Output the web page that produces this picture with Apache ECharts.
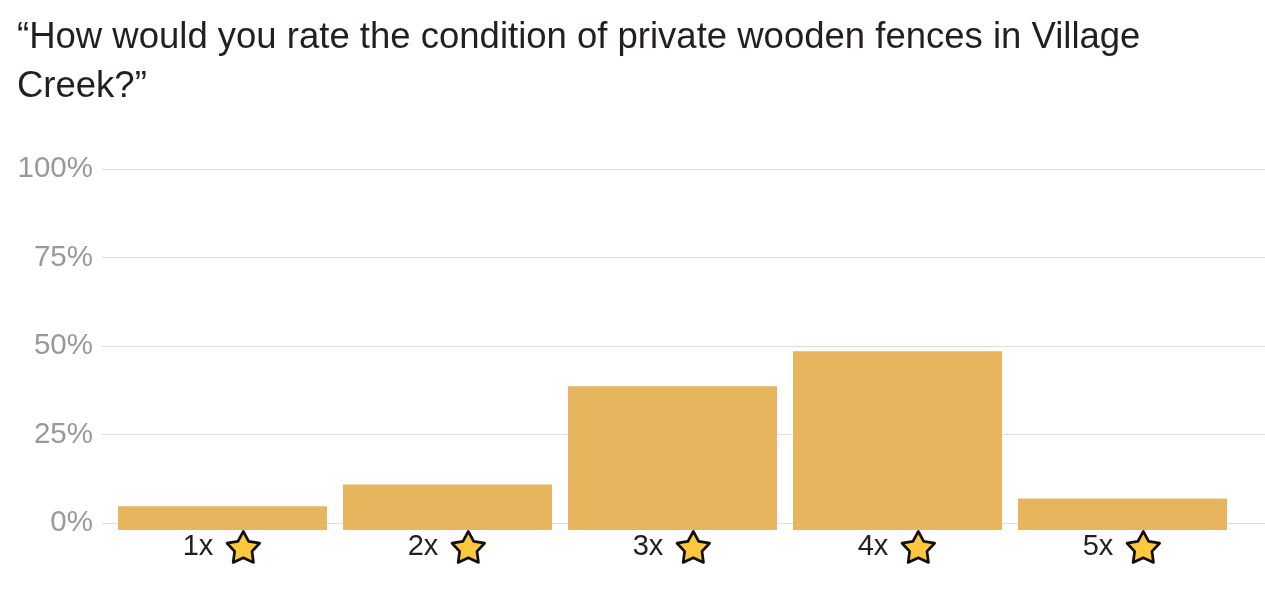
<!DOCTYPE html>
<html>
<head>
<meta charset="utf-8">
<script src="https://cdn.jsdelivr.net/npm/echarts@6/dist/echarts.min.js"></script>
<style>
  html, body { margin: 0; padding: 0; background: #ffffff; }
  #chart { width: 1265px; height: 591px; }
</style>
</head>
<body>
<div id="chart"></div>
<script>
// ---- data ----
const titleText = '\u201cHow would you rate the condition of private wooden fences in Village\nCreek?\u201d';
const categories = ['1x', '2x', '3x', '4x', '5x'];
const shares = [4.7, 10.9, 38.6, 48.5, 6.9];   // percent of respondents
const yTicks = [0, 25, 50, 75, 100];
const baseOffset = -2;                          // bars start slightly below 0%

// ---- star icon (the emoji in the labels) ----
const starSvg = '<svg xmlns="http://www.w3.org/2000/svg" width="36" height="36" viewBox="0 0 36 36">' +
  '<polygon points="18,3.2 23.1,12.6 33.4,14.4 26.2,22.1 27.6,32.6 18,28.1 8.4,32.6 9.8,22.1 2.6,14.4 12.9,12.6" ' +
  'fill="#FFC83D" stroke="#111111" stroke-width="2.6" stroke-linejoin="round"/></svg>';
const starUri = 'data:image/svg+xml;utf8,' + encodeURIComponent(starSvg);

const barColor = '#E6B55E';
const font = '"Liberation Sans", Arial, sans-serif';

const chart = echarts.init(document.getElementById('chart'), null, { renderer: 'canvas' });
chart.setOption({
  animation: false,
  backgroundColor: '#ffffff',
  title: {
    text: titleText,
    left: 12,
    top: 8,
    textStyle: { fontFamily: font, fontSize: 36.5, fontWeight: 'normal', color: '#231F20', lineHeight: 49 }
  },
  grid: [
    { left: 102, right: 0, top: 169, bottom: 68 },
    { left: 110, right: 30, top: 169, bottom: 68 }
  ],
  xAxis: [
    { gridIndex: 0, type: 'value', show: false, min: 0, max: 1 },
    {
      gridIndex: 1, type: 'category', data: categories, boundaryGap: true,
      axisLine: { show: false }, axisTick: { show: false },
      axisLabel: {
        margin: 5,
        formatter: v => '{t|' + v + '}{g|}{s|}',
        rich: {
          t: { fontFamily: font, fontSize: 29, color: '#231F20' },
          g: { width: 11, height: 10 },
          s: { width: 38, height: 38, backgroundColor: { image: starUri } }
        }
      }
    }
  ],
  yAxis: [
    {
      gridIndex: 0, type: 'value', min: yTicks[0], max: yTicks[yTicks.length - 1], interval: yTicks[1] - yTicks[0],
      axisLine: { show: false }, axisTick: { show: false },
      axisLabel: { formatter: '{value}%', fontFamily: font, fontSize: 29.5, color: '#999999', margin: 9 },
      splitLine: { lineStyle: { color: '#DDDDDD', width: 1 } }
    },
    { gridIndex: 1, type: 'value', min: 0, max: 100, show: false, splitLine: { show: false } }
  ],
  series: [
    {
      name: 'base', type: 'bar', xAxisIndex: 1, yAxisIndex: 1, stack: 'bars', clip: false,
      barWidth: 209, itemStyle: { color: barColor },
      data: categories.map(() => baseOffset), silent: true
    },
    {
      name: 'share', type: 'bar', xAxisIndex: 1, yAxisIndex: 1, stack: 'bars', clip: false,
      barWidth: 209, itemStyle: { color: barColor },
      data: shares
    }
  ]
});
</script>
</body>
</html>
